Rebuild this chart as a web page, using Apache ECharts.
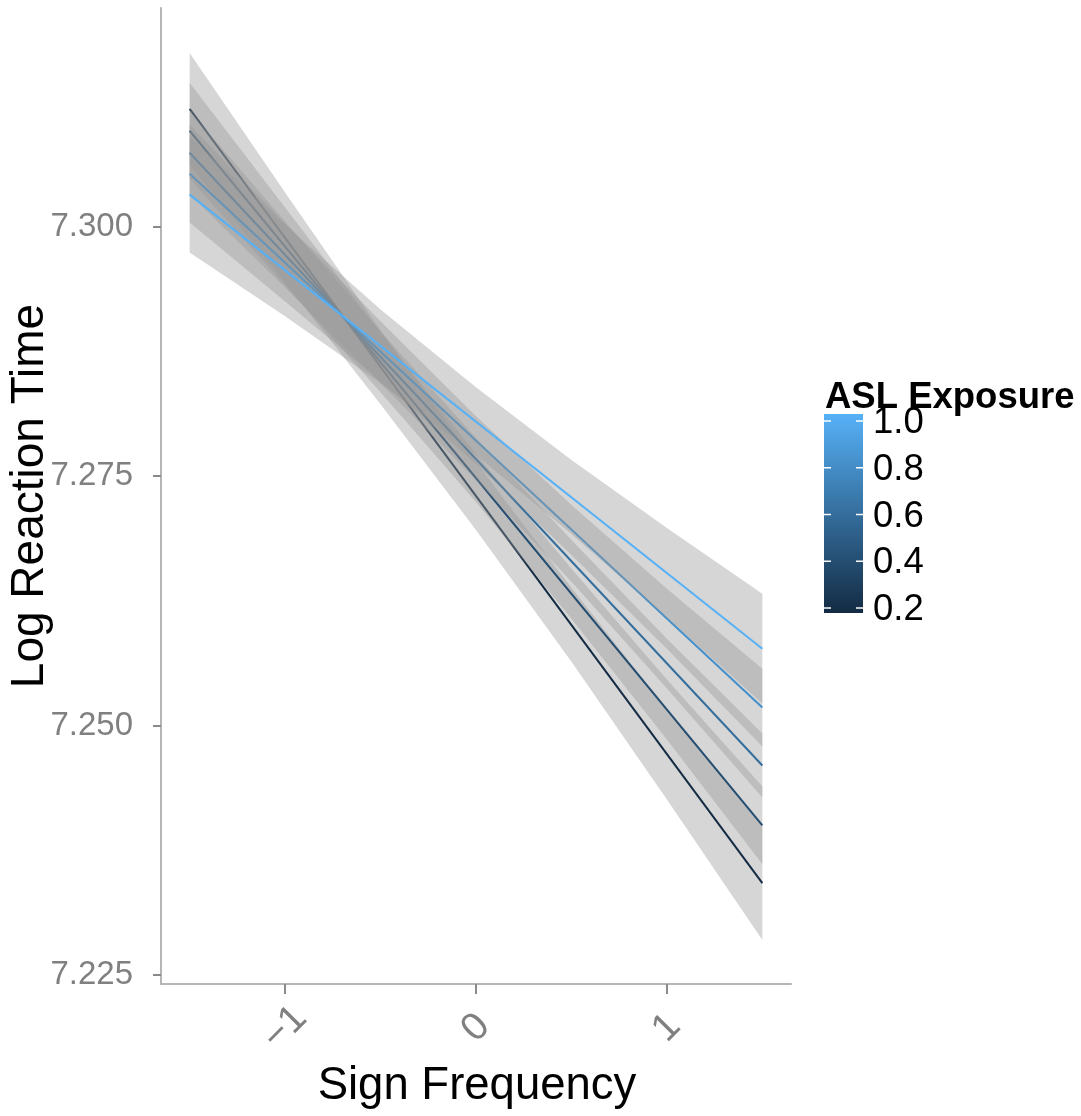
<!DOCTYPE html>
<html>
<head>
<meta charset="utf-8">
<script src="https://cdn.jsdelivr.net/npm/echarts@6/dist/echarts.min.js"></script>
<style>
html,body{margin:0;padding:0;background:#fff;}
#chart{width:1081px;height:1116px;}
</style>
</head>
<body>
<div id="chart"></div>
<script>
// ---- data ----
const exposure = [0.2, 0.4, 0.6, 0.8, 1.0];
const lineX = [-1.5, 1.5];
const lineStart = [7.3118, 7.3096, 7.3074, 7.3053, 7.3032]; // y at x = -1.5
const lineEnd   = [7.2342, 7.2400, 7.2460, 7.2518, 7.2577]; // y at x = 1.5
const ribbonX = [-1.5, -1, -0.5, 0, 0.5, 1, 1.5];
const ribbonUpper02 = [7.3174, 7.3034, 7.2896, 7.2764, 7.2638, 7.2516, 7.2399];
const ribbonLower02 = [7.3062, 7.2944, 7.2822, 7.2696, 7.2564, 7.2426, 7.2285];
const ribbonUpper04 = [7.3144, 7.3019, 7.2894, 7.2772, 7.2657, 7.2546, 7.2439];
const ribbonLower04 = [7.3048, 7.2941, 7.2834, 7.2724, 7.2607, 7.2486, 7.2361];
const ribbonUpper06 = [7.3116, 7.3005, 7.2895, 7.2788, 7.2686, 7.2587, 7.2492];
const ribbonLower06 = [7.3032, 7.2939, 7.2843, 7.2746, 7.2644, 7.2537, 7.2428];
const ribbonUpper08 = [7.3102, 7.3003, 7.2905, 7.2810, 7.2721, 7.2637, 7.2557];
const ribbonLower08 = [7.3004, 7.2925, 7.2845, 7.2762, 7.2671, 7.2577, 7.2479];
const ribbonUpper10 = [7.3090, 7.3002, 7.2917, 7.2839, 7.2766, 7.2698, 7.2632];
const ribbonLower10 = [7.2974, 7.2910, 7.2843, 7.2771, 7.2692, 7.2608, 7.2522];
const xTicks = [-1, 0, 1];
const yTicks = [7.225, 7.250, 7.275, 7.300];
const legendTicks = [0.2, 0.4, 0.6, 0.8, 1.0];

const ribbonUpper = [ribbonUpper02, ribbonUpper04, ribbonUpper06, ribbonUpper08, ribbonUpper10];
const ribbonLower = [ribbonLower02, ribbonLower04, ribbonLower06, ribbonLower08, ribbonLower10];

// ---- colour scale (ggplot default gradient) ----
const lowColor = [19, 43, 67];   // #132B43
const highColor = [86, 177, 247]; // #56B1F7
const cMin = 0.2, cMax = 1.0;
function colorFor(v) {
  const t = (v - cMin) / (cMax - cMin);
  const c = lowColor.map((a, k) => Math.round(a + (highColor[k] - a) * t));
  return 'rgb(' + c.join(',') + ')';
}

const FONT = '"Liberation Sans", Arial, Helvetica, sans-serif';
const chart = echarts.init(document.getElementById('chart'), null, {renderer: 'canvas'});

const series = [];
exposure.forEach((e, i) => {
  series.push({
    type: 'custom',
    coordinateSystem: 'cartesian2d',
    silent: true,
    z: 2 + 2 * i,
    data: [[0, 7.27]],
    renderItem: function (params, api) {
      const pts = [];
      for (let j = 0; j < ribbonX.length; j++) pts.push(api.coord([ribbonX[j], ribbonUpper[i][j]]));
      for (let j = ribbonX.length - 1; j >= 0; j--) pts.push(api.coord([ribbonX[j], ribbonLower[i][j]]));
      return {
        type: 'polygon',
        shape: {points: pts},
        style: {fill: 'rgba(153,153,153,0.4)', stroke: null}
      };
    }
  });
  series.push({
    type: 'line',
    silent: true,
    z: 3 + 2 * i,
    showSymbol: false,
    symbol: 'none',
    data: [[lineX[0], lineStart[i]], [lineX[1], lineEnd[i]]],
    lineStyle: {color: colorFor(e), width: 2},
    itemStyle: {color: colorFor(e)}
  });
});

// ---- legend (colour bar) ----
const barLeft = 824, barWidth = 39, barTop = 414, barBottom = 613;
const tickYLow = 608, tickYHigh = 421;
function legendY(v) { return tickYLow - (v - cMin) / (cMax - cMin) * (tickYLow - tickYHigh); }
const graphics = [
  {type: 'rect', left: barLeft, top: barTop, shape: {width: barWidth, height: barBottom - barTop},
   style: {fill: new echarts.graphic.LinearGradient(0, 0, 0, 1, [
     {offset: 0, color: colorFor(cMax)}, {offset: 1, color: colorFor(cMin)}])}},
  {type: 'text', x: 825, y: 398, style: {text: 'ASL Exposure', font: 'bold 36.5px ' + FONT,
   fill: '#000', textAlign: 'left', textVerticalAlign: 'middle'}},
  {type: 'text', x: 30, y: 496, rotation: Math.PI / 2, style: {text: 'Log Reaction Time',
   font: '46px ' + FONT, fill: '#000', textAlign: 'center', textVerticalAlign: 'middle'}},
  {type: 'text', x: 477, y: 1086, style: {text: 'Sign Frequency',
   font: '45.5px ' + FONT, fill: '#000', textAlign: 'center', textVerticalAlign: 'middle'}}
];
legendTicks.forEach(v => {
  const y = legendY(v);
  graphics.push({type: 'line', shape: {x1: barLeft, y1: y, x2: barLeft + 7, y2: y},
    style: {stroke: '#fff', lineWidth: 1.5}});
  graphics.push({type: 'line', shape: {x1: barLeft + barWidth - 7, y1: y, x2: barLeft + barWidth, y2: y},
    style: {stroke: '#fff', lineWidth: 1.5}});
  graphics.push({type: 'text', x: 873, y: y + 2, style: {text: v.toFixed(1), font: '36.5px ' + FONT,
    fill: '#000', textAlign: 'left', textVerticalAlign: 'middle'}});
});

const option = {
  animation: false,
  backgroundColor: '#fff',
  grid: {left: 161, top: 8, width: 630, height: 976, containLabel: false},
  xAxis: {
    type: 'value', min: -1.65, max: 1.65, position: 'bottom',
    splitLine: {show: false},
    axisLine: {show: true, onZero: false, lineStyle: {color: '#b5b5b5', width: 2}},
    axisTick: {show: true, customValues: xTicks, length: 10, lineStyle: {color: '#8a8a8a', width: 2}},
    axisLabel: {customValues: xTicks, rotate: 45, align: 'center', verticalAlign: 'middle',
      margin: 44, color: '#808080', fontSize: 39, fontFamily: FONT,
      formatter: v => (v < 0 ? '\u2212' + Math.abs(v) : String(v))}
  },
  yAxis: {
    type: 'value', min: 7.2241, max: 7.3219,
    splitLine: {show: false},
    axisLine: {show: true, onZero: false, lineStyle: {color: '#b5b5b5', width: 2}},
    axisTick: {show: true, customValues: yTicks, length: 8, lineStyle: {color: '#8a8a8a', width: 2}},
    axisLabel: {customValues: yTicks, margin: 28, color: '#808080', fontSize: 33, fontFamily: FONT,
      formatter: v => v.toFixed(3)}
  },
  series: series,
  graphic: graphics
};
chart.setOption(option);
</script>
</body>
</html>
